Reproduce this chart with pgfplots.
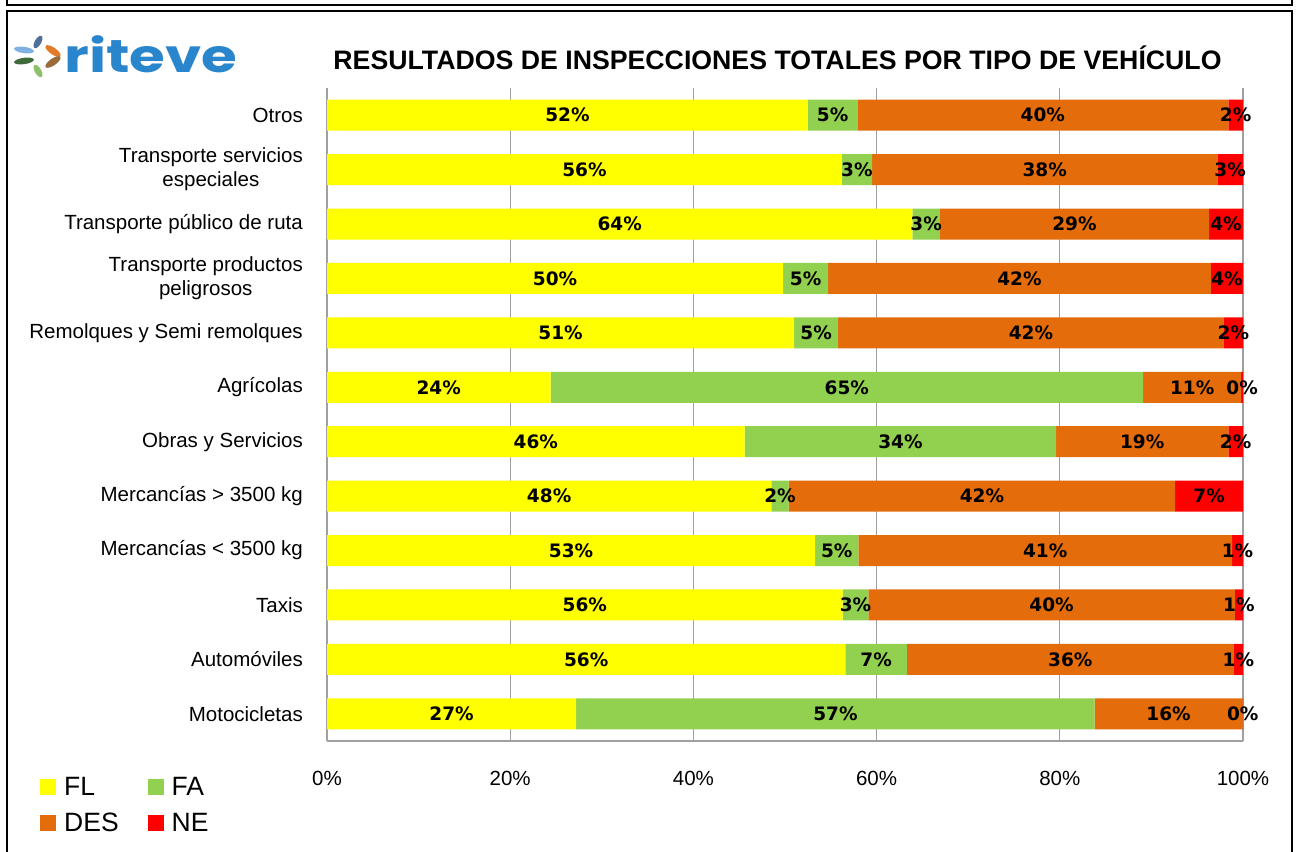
\documentclass[border=0pt]{standalone}
\usepackage{pgfplots}
\pgfplotsset{compat=1.18}
\usepackage{pgfplotstable}
\usepackage{fontspec}
\setmainfont{Liberation Sans}
\newfontfamily\barfont{DejaVu Sans}
\newfontfamily\logofont{Poppins}
\definecolor{cFL}{HTML}{FFFF00}
\definecolor{cFA}{HTML}{92D050}
\definecolor{cDES}{HTML}{E46C0A}
\definecolor{cNE}{HTML}{FF0000}
\definecolor{gridgray}{HTML}{A0A0A0}
\definecolor{logoblue}{HTML}{2A86CC}
\pgfplotsset{sq/.style={legend image code/.code={\fill[##1] (0pt,-8pt) rectangle (16pt,8pt);}}}
\pgfplotsset{base/.style={
  at={(327pt,110pt)}, anchor=south west,
  scale only axis, width=916pt, height=653pt,
  xmin=0, xmax=100, ymin=-0.5, ymax=11.5,
  enlarge x limits=false, enlarge y limits=false,
  xbar stacked, bar width=31pt,
}}

% y: 0 Motocicletas ... 11 Otros ; x = segment share (%), lab = printed label
\pgfplotstableread{
y x lab
0 27.2 27
1 56.6 56
2 56.3 56
3 53.3 53
4 48.5 48
5 45.6 46
6 24.4 24
7 51.0 51
8 49.8 50
9 63.9 64
10 56.2 56
11 52.5 52
}\tFL
\pgfplotstableread{
y x lab
0 56.6 57
1 6.7 7
2 2.8 3
3 4.7 5
4 1.9 2
5 34.0 34
6 64.7 65
7 4.8 5
8 4.9 5
9 3.0 3
10 3.3 3
11 5.4 5
}\tFA
\pgfplotstableread{
y x lab
0 16.15 16
1 35.7 36
2 40.0 40
3 40.8 41
4 42.2 42
5 18.8 19
6 10.7 11
7 42.1 42
8 41.8 42
9 29.4 29
10 37.7 38
11 40.5 40
}\tDES
\pgfplotstableread{
y x lab
0 0.05 0
1 1.0 1
2 0.9 1
3 1.2 1
4 7.4 7
5 1.6 2
6 0.2 0
7 2.1 2
8 3.5 4
9 3.7 4
10 2.8 3
11 1.6 2
}\tNE

\begin{document}
\begin{tikzpicture}[x=1pt,y=1pt]
\useasboundingbox (0,0) rectangle (1297,851);
% frame
\draw[line width=2.5] (7,851) -- (7,846) -- (1292,846) -- (1292,851);
\draw[line width=2.5] (7,-5) -- (7,840) -- (1292,840) -- (1292,-5);
% logo
\fill[color={rgb,255:red,79;green,110;blue,154}, rotate around={60:(38,809)}] (38,809) ellipse (7 and 3.2);
\fill[color={rgb,255:red,127;green,178;blue,224}, rotate around={-8:(24,801)}] (24,801) ellipse (10 and 3.2);
\fill[color={rgb,255:red,63;green,107;blue,58}, rotate around={8:(24,790)}] (24,790) ellipse (10 and 3.2);
\fill[color={rgb,255:red,141;green,192;blue,106}, rotate around={-60:(38,780)}] (38,780) ellipse (7 and 3.2);
\fill[color={rgb,255:red,224;green,123;blue,42}, rotate around={-35:(53,800)}] (53,800) ellipse (9 and 3.4);
\fill[color={rgb,255:red,156;green,107;blue,58}, rotate around={35:(53,789)}] (53,789) ellipse (9 and 3.4);
\node[anchor=west, inner sep=0, text=logoblue, font=\logofont\bfseries\fontsize{46}{50}\selectfont, xscale=1.26] at (64,797) {riteve};
% title
\node[font=\bfseries\fontsize{26.7}{30}\selectfont] at (777.5,793) {RESULTADOS DE INSPECCIONES TOTALES POR TIPO DE VEHÍCULO};

\begin{axis}[base,
  axis x line*=bottom, axis y line*=left,
  axis line style={gridgray, line width=1.2pt},
  xtick={0,20,...,100}, xticklabels={0\%,20\%,40\%,60\%,80\%,100\%},
  xmajorgrids, major grid style={gridgray, line width=1.2pt},
  ytick={0,...,11},
  yticklabels={Motocicletas,Automóviles,Taxis,Mercancías < 3500 kg,Mercancías > 3500 kg,Obras y Servicios,Agrícolas,Remolques y Semi remolques,{Transporte productos\\peligrosos},Transporte público de ruta,{Transporte servicios\\especiales},Otros},
  major tick length=0pt,
  xticklabel style={font=\fontsize{20.5}{24}\selectfont, anchor=base, yshift=-44pt},
  yticklabel style={font=\fontsize{20.5}{24}\selectfont, align=center, anchor=east, inner sep=0pt, xshift=-24pt},
  legend columns=2,
  legend style={at={(axis description cs:-0.3133,-0.052)}, anchor=north west, draw=none, fill=none, inner sep=0pt,
    font=\fontsize{26.5}{30}\selectfont, row sep=12pt,
    /tikz/every odd column/.append style={column sep=6pt},
    /tikz/every even column/.append style={column sep=27pt}},
  legend cell align=left,
]
\addplot[fill=cFL, draw=none, sq] table[x=x,y=y]{\tFL};
\addplot[fill=cFA, draw=none, sq] table[x=x,y=y]{\tFA};
\addplot[fill=cDES, draw=none, sq] table[x=x,y=y]{\tDES};
\addplot[fill=cNE, draw=none, sq] table[x=x,y=y]{\tNE};
\legend{FL,FA,DES,NE}
\end{axis}

\begin{axis}[base, hide axis,
  point meta=explicit symbolic,
  nodes near coords={\pgfplotspointmeta\%},
  nodes near coords style={font=\barfont\bfseries\fontsize{18.5}{21}\selectfont, anchor=center, inner sep=0pt, text=black},
]
\addplot[draw=none, fill=none] table[x=x,y=y,meta=lab]{\tFL};
\addplot[draw=none, fill=none] table[x=x,y=y,meta=lab]{\tFA};
\addplot[draw=none, fill=none] table[x=x,y=y,meta=lab]{\tDES};
\addplot[draw=none, fill=none] table[x=x,y=y,meta=lab]{\tNE};
\end{axis}
\end{tikzpicture}
\end{document}
